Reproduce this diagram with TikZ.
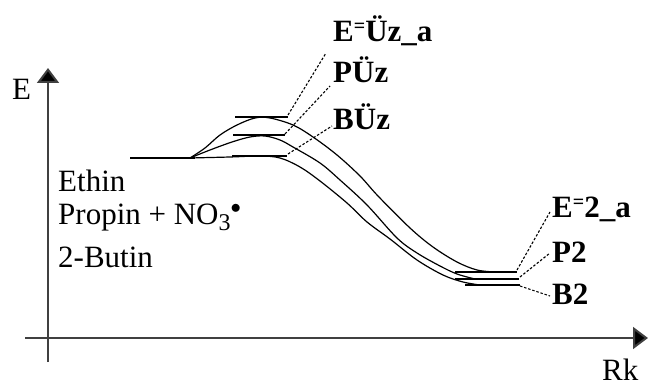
\documentclass[tikz,border=0pt]{standalone}
\usepackage{fontspec}
\setmainfont{Liberation Serif}
\usetikzlibrary{arrows.meta}
\newcommand{\smalleq}{\raisebox{9pt}{\fontsize{20}{20}\selectfont\bfseries =}}
\begin{document}
\begin{tikzpicture}[x=1pt,y=-1pt,
  axis/.style={line width=2pt, draw=black!75, -{Triangle[width=22pt,length=15pt,fill=black]}},
  level/.style={line width=1.6pt},
  rpath/.style={line width=1.2pt, smooth, tension=0.55},
  leader/.style={line width=1.1pt, dash pattern=on 2.5pt off 1.8pt},
  lbl/.style={font=\fontsize{31}{31}\selectfont\bfseries, anchor=base west, inner sep=0pt},
  txt/.style={font=\fontsize{31}{31}\selectfont, anchor=base west, inner sep=0pt}]
\useasboundingbox (0,0) rectangle (648,387);
% axes
\coordinate (yb) at (48,362);
\coordinate (yt) at (48,68);
\coordinate (xl) at (25,338);
\coordinate (xr) at (648,338);
\draw[axis] (yb) -- (yt);
\draw[axis] (xl) -- (xr);
\node[txt] (elab) at (12,100) {E};
\node[txt] (rklab) at (602,380) {Rk};
% reactant level
\coordinate (r0) at (130,158);
\coordinate (r1) at (195,158);
\draw[level] (r0) -- (r1);
% transition-state levels
\coordinate (tsE0) at (235,117); \coordinate (tsE1) at (288,117);
\coordinate (tsP0) at (233,135); \coordinate (tsP1) at (285,135);
\coordinate (tsB0) at (232,156); \coordinate (tsB1) at (287,156);
\draw[level] (tsE0) -- (tsE1);
\draw[level] (tsP0) -- (tsP1);
\draw[level] (tsB0) -- (tsB1);
% product levels
\coordinate (pE0) at (455,272); \coordinate (pE1) at (517,272);
\coordinate (pP0) at (455,279); \coordinate (pP1) at (519,279);
\coordinate (pB0) at (465,285); \coordinate (pB1) at (520,285);
\draw[level] (pE0) -- (pE1);
\draw[level] (pP0) -- (pP1);
\draw[level] (pB0) -- (pB1);
% reaction paths
\draw[rpath] plot coordinates {(190,158) (205,148) (220,135) (237,125) (255,118) (270,118) (293,125) (313,137) (337,155) (360,176) (378,196) (410,228) (433,247) (457,262) (477,270) (495,272)};
\draw[rpath] plot coordinates {(190,158) (210,150) (232,142) (250,137) (265,136) (280,140) (293,147) (320,163) (340,180) (367,205) (397,238) (417,253) (440,266) (457,274) (475,279)};
\draw[rpath] plot coordinates {(190,158) (230,157) (260,156) (280,158) (300,167) (320,181) (347,203) (367,222) (390,239) (417,260) (443,275) (463,282) (480,285)};
% labels
\node[lbl] (lEUz) at (333,42) {E\smalleq Üz\_a};
\node[lbl] (lPUz) at (333,83) {PÜz};
\node[lbl] (lBUz) at (333,130) {BÜz};
\node[lbl] (lE2) at (552,218) {E\smalleq 2\_a};
\node[lbl] (lP2) at (552,263) {P2};
\node[lbl] (lB2) at (552,305) {B2};
\coordinate (aEUz) at (326,53);
\coordinate (aPUz) at (330,86);
\coordinate (aBUz) at (332,126);
\coordinate (aE2) at (550,212);
\coordinate (aP2) at (550,253);
\coordinate (aB2) at (550,296);
\coordinate (sE) at (288,115);
\coordinate (sP) at (285,134);
\coordinate (sB) at (288,154);
\coordinate (sE2) at (517,270);
\coordinate (sP2) at (520,277);
\coordinate (sB2) at (520,286);
\draw[leader] (sE) -- (aEUz);
\draw[leader] (sP) -- (aPUz);
\draw[leader] (sB) -- (aBUz);
\draw[leader] (sE2) -- (aE2);
\draw[leader] (sP2) -- (aP2);
\draw[leader] (sB2) -- (aB2);
% reactant text
\node[txt] (eth) at (58,192) {Ethin};
\node[txt] (prop) at (58,225) {Propin + NO\raisebox{-6pt}{\fontsize{24}{24}\selectfont 3}\raisebox{11pt}{\fontsize{20}{20}\selectfont$\bullet$}};
\node[txt] (but) at (58,268) {2-Butin};
\end{tikzpicture}
\end{document}
